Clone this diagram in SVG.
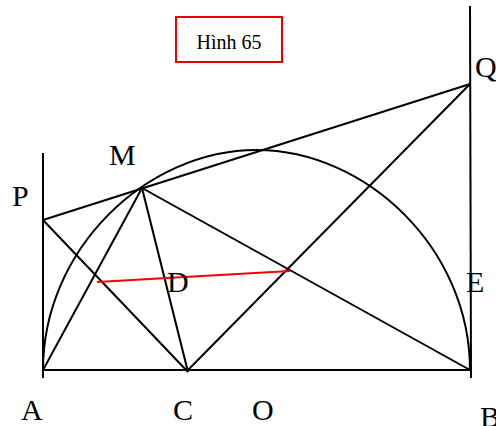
<svg xmlns="http://www.w3.org/2000/svg" width="496" height="426" viewBox="0 0 496 426">
<style>
.l{stroke:#000;stroke-width:2;fill:none}
.t{font-family:"Liberation Serif","Times New Roman",serif;font-size:30px;fill:#000}
</style>
<rect width="496" height="426" fill="#fff"/>
<g id="caption">
<rect x="176" y="17" width="106" height="45" fill="none" stroke="#e00" stroke-width="2"/>
<text x="229" y="49" text-anchor="middle" style="font-family:'Liberation Serif',serif;font-size:20px">Hình 65</text>
</g>
<g id="connectors">
<path class="l" d="M43,370 C43,249 146.5,150 256.5,150 C366.5,150 470,249 470,370"/>
<line class="l" x1="43" y1="153" x2="43" y2="378"/>
<line class="l" x1="470" y1="6" x2="471" y2="378"/>
<line class="l" x1="43" y1="370" x2="471" y2="370"/>
<line class="l" x1="43" y1="220" x2="470" y2="84"/>
<line class="l" x1="43" y1="220" x2="188" y2="372"/>
<line class="l" x1="142" y1="188" x2="43" y2="370"/>
<line class="l" x1="142" y1="188" x2="188" y2="372"/>
<line class="l" x1="142" y1="188" x2="470" y2="370"/>
<line class="l" x1="188" y1="370" x2="470" y2="84"/>
<line x1="97" y1="282" x2="290" y2="271" stroke="#f00" stroke-width="2"/>
</g>
<g id="labels">
<text class="t" x="12" y="206">P</text>
<text class="t" x="109" y="165">M</text>
<text class="t" x="475" y="77">Q</text>
<text class="t" x="167" y="292">D</text>
<text class="t" x="466" y="292">E</text>
<text class="t" x="21" y="420">A</text>
<text class="t" x="173" y="420">C</text>
<text class="t" x="252" y="420">O</text>
<text class="t" x="480" y="427">B</text>
</g>
</svg>
